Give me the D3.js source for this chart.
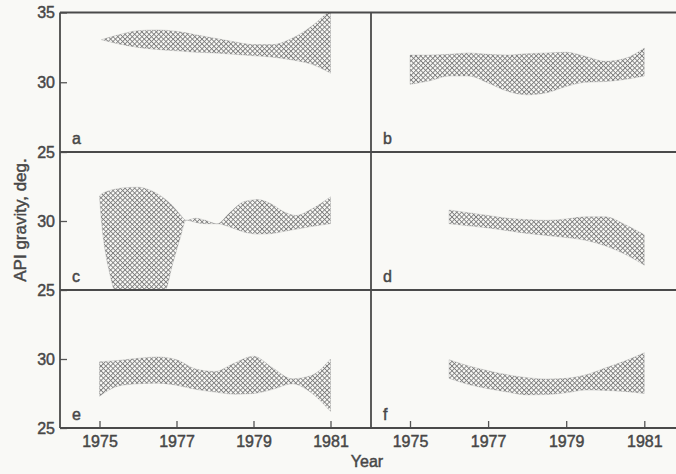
<!DOCTYPE html>
<html>
<head>
<meta charset="utf-8">
<script src="https://cdn.jsdelivr.net/npm/d3@7"></script>
<style>
  body { margin: 0; background: #f9f9f6; }
  svg { display: block; font-family: "Liberation Sans", Arial, sans-serif; }
  text { fill: #474747; stroke: #474747; stroke-width: 0.45px; }
</style>
</head>
<body>
<svg width="676" height="474"></svg>
<script>
// band data: upper and lower API gravity limits per year
var aYears = [1975.05, 1975.5, 1976, 1976.5, 1977, 1977.5, 1978, 1978.5, 1979, 1979.5, 1980, 1980.5, 1981]
var aUpper = [33.05, 33.4, 33.7, 33.75, 33.65, 33.4, 33.15, 32.9, 32.7, 32.7, 33.15, 34.0, 35.2]
var aLower = [33.05, 32.75, 32.5, 32.35, 32.25, 32.15, 32.1, 32.0, 31.9, 31.8, 31.6, 31.3, 30.65]

var bYears = [1975, 1975.5, 1976, 1976.5, 1977, 1977.5, 1978, 1978.5, 1979, 1979.5, 1980, 1980.5, 1981]
var bUpper = [31.95, 31.95, 32.0, 32.1, 32.0, 31.95, 32.05, 32.1, 32.15, 31.85, 31.5, 31.7, 32.45]
var bLower = [29.85, 30.1, 30.45, 30.45, 29.95, 29.35, 29.1, 29.25, 29.7, 30.0, 30.05, 30.2, 30.45]

var cYears = [1975.0, 1975.05, 1975.15, 1975.25, 1975.4, 1975.6, 1976.0, 1976.3, 1976.7, 1976.9, 1977.1, 1977.25,
              1977.5, 1977.75, 1978.05, 1978.4, 1978.75, 1979.1, 1979.45, 1979.8, 1980.1, 1980.5, 1981.0]
var cUpper = [31.8, 31.95, 32.1, 32.2, 32.3, 32.4, 32.45, 32.25, 31.6, 31.1, 30.45, 30.05,
              30.2, 30.05, 29.8, 30.65, 31.4, 31.55, 31.25, 30.65, 30.4, 30.85, 31.75]
var cLower = [31.8, 30.0, 27.8, 26.4, 25.0, 25.0, 25.0, 25.0, 25.0, 26.9, 28.8, 30.05,
              29.9, 29.8, 29.8, 29.55, 29.2, 29.05, 29.08, 29.25, 29.4, 29.6, 29.8]

var dYears = [1976, 1976.5, 1977, 1977.5, 1978, 1978.5, 1979, 1979.5, 1980, 1980.5, 1981]
var dUpper = [30.8, 30.6, 30.4, 30.2, 30.1, 30.05, 30.15, 30.3, 30.3, 29.75, 29.0]
var dLower = [29.8, 29.65, 29.5, 29.3, 29.1, 28.95, 28.8, 28.6, 28.2, 27.6, 26.8]

var eYears = [1975, 1975.5, 1976, 1976.5, 1977, 1977.5, 1978, 1978.5, 1979, 1979.5, 1980, 1980.5, 1981]
var eUpper = [29.8, 29.9, 30.05, 30.15, 29.95, 29.27, 29.1, 29.7, 30.2, 29.35, 28.57, 28.8, 30.0]
var eLower = [27.3, 28.05, 28.2, 28.25, 28.1, 27.8, 27.6, 27.45, 27.5, 27.8, 28.2, 27.56, 26.2]

var fYears = [1976, 1976.5, 1977, 1977.5, 1978, 1978.5, 1979, 1979.5, 1980, 1980.5, 1981]
var fUpper = [29.95, 29.5, 29.15, 28.85, 28.65, 28.55, 28.6, 28.85, 29.35, 29.85, 30.45]
var fLower = [28.6, 28.15, 27.85, 27.6, 27.4, 27.42, 27.55, 27.75, 27.72, 27.65, 27.5]

var xTicks = [1975, 1977, 1979, 1981]
var letters = ["a", "b", "c", "d", "e", "f"]

var svg = d3.select("svg")

// layout
var colX = [60, 371], rightEdge = 676
var rowY = [12.5, 152, 290, 428]
var xs = [
  d3.scaleLinear().domain([1975, 1981]).range([99.5, 330.5]),
  d3.scaleLinear().domain([1975, 1981]).range([410, 644.3])
]
var ys = [0, 1, 2].map(function(r) {
  return d3.scaleLinear().domain([25, 35]).range([rowY[r + 1], rowY[r]])
})

function toRows(years, up, lo) {
  return years.map(function(y, i) { return { x: y, hi: up[i], lo: lo[i] } })
}
var panels = [
  toRows(aYears, aUpper, aLower), toRows(bYears, bUpper, bLower),
  toRows(cYears, cUpper, cLower), toRows(dYears, dUpper, dLower),
  toRows(eYears, eUpper, eLower), toRows(fYears, fUpper, fLower)
]

// crosshatch
var defs = svg.append("defs")
defs.append("pattern")
    .attr("id", "hatch")
    .attr("patternUnits", "userSpaceOnUse")
    .attr("width", 3.4).attr("height", 3.4)
    .attr("patternTransform", "rotate(45)")
  .append("path")
    .attr("d", "M0,0.5H3.4M0.5,0V3.4")
    .attr("stroke", "#7c7c7c")
    .attr("stroke-width", 0.9)

panels.forEach(function(data, i) {
  var col = i % 2, row = Math.floor(i / 2)
  var x = xs[col], y = ys[row]
  var x0 = colX[col], x1 = col === 0 ? colX[1] : rightEdge

  defs.append("clipPath").attr("id", "clip" + i)
    .append("rect")
      .attr("x", x0).attr("y", rowY[row])
      .attr("width", x1 - x0).attr("height", rowY[row + 1] - rowY[row])

  var area = d3.area()
      .x(function(d) { return x(d.x) })
      .y0(function(d) { return y(d.lo) })
      .y1(function(d) { return y(d.hi) })
      .curve(d3.curveMonotoneX)

  svg.append("path")
      .datum(data)
      .attr("clip-path", "url(#clip" + i + ")")
      .attr("d", area)
      .attr("fill", "url(#hatch)")
      .attr("stroke", "#9a9a9a")
      .attr("stroke-width", 0.3)

  svg.append("text")
      .attr("x", x0 + 12)
      .attr("y", rowY[row + 1] - 8)
      .text(letters[i])
      .style("font-size", "16px")
})

// y axes on the left column
ys.forEach(function(y, r) {
  var g = svg.append("g")
      .attr("transform", "translate(" + colX[0] + ",0)")
      .call(d3.axisLeft(y).tickValues(r === 0 ? [35, 30, 25] : [30, 25]).tickSize(-7).tickPadding(5))
  g.select(".domain").remove()
  g.selectAll("line").attr("stroke", "#555").attr("stroke-width", 1.3)
  g.selectAll("text").attr("fill", null).style("font-size", "16px").style("font-family", "Liberation Sans, Arial, sans-serif")
})

// x axes along the bottom
xs.forEach(function(x) {
  var g = svg.append("g")
      .attr("transform", "translate(0," + rowY[3] + ")")
      .call(d3.axisBottom(x).tickValues(xTicks).tickFormat(d3.format("d")).tickSize(-7).tickPadding(8))
  g.select(".domain").remove()
  g.selectAll("line").attr("stroke", "#555").attr("stroke-width", 1.3)
  g.selectAll("text").attr("fill", null).style("font-size", "16px").style("font-family", "Liberation Sans, Arial, sans-serif")
})

// frame
rowY.forEach(function(yy) {
  svg.append("line")
      .attr("x1", colX[0]).attr("x2", rightEdge)
      .attr("y1", yy).attr("y2", yy)
      .attr("stroke", "#4a4a4a").attr("stroke-width", 1.8)
})
colX.forEach(function(xx) {
  svg.append("line")
      .attr("x1", xx).attr("x2", xx)
      .attr("y1", rowY[0]).attr("y2", rowY[3])
      .attr("stroke", "#4a4a4a").attr("stroke-width", 1.8)
})

// axis titles
svg.append("text")
    .attr("text-anchor", "middle")
    .attr("transform", "translate(26,220) rotate(-90)")
    .text("API gravity, deg.")
    .style("font-size", "17px")

svg.append("text")
    .attr("text-anchor", "middle")
    .attr("x", 367)
    .attr("y", 467)
    .text("Year")
    .style("font-size", "16px")
</script>
</body>
</html>
